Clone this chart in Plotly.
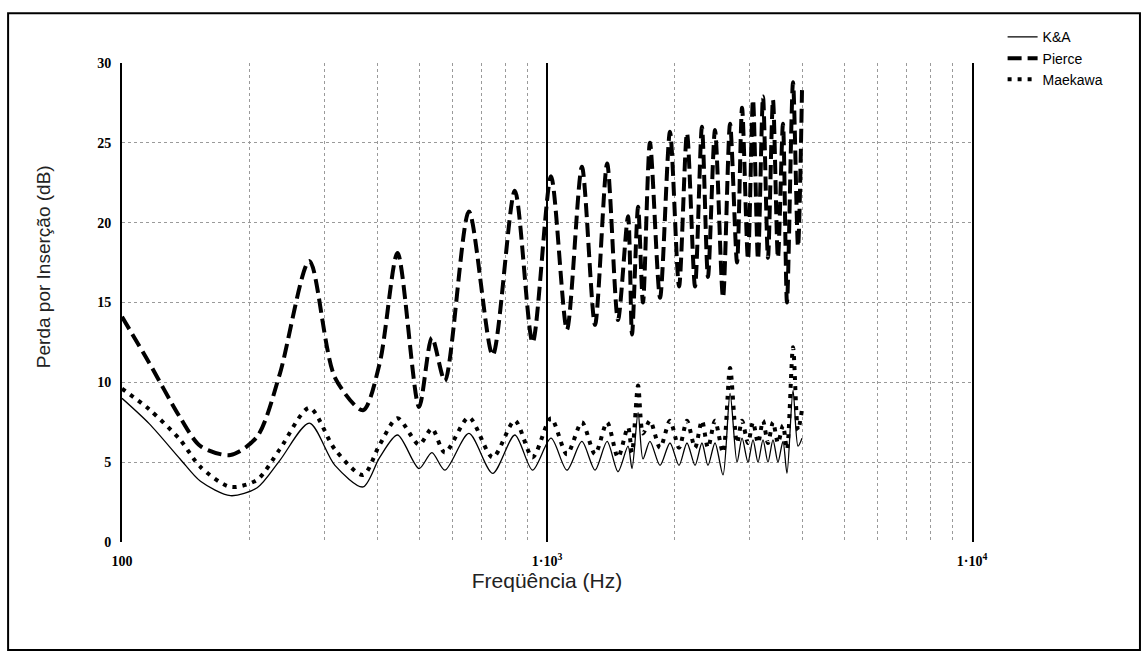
import plotly.graph_objects as go

# Frequencies (Hz) at which the curves were read (peaks / troughs / shape points)
freq = [100, 116, 137, 153, 180, 208, 235, 276, 317, 369, 404, 445, 500, 536, 575,
        655, 745, 840, 925, 1022, 1114, 1208, 1297, 1385, 1469, 1551, 1585, 1638,
        1682, 1747, 1845, 1947, 2045, 2135, 2230, 2315, 2392, 2485, 2595, 2696,
        2800, 2877, 2971, 3053, 3137, 3223, 3311, 3402, 3495, 3591, 3670, 3792,
        3896, 3981]

pierce = [14.1, 11.2, 7.8, 6.0, 5.45, 6.6, 10.5, 17.6, 10.3, 8.25, 11.2, 18.1, 8.45,
          12.8, 10.1, 20.7, 11.7, 22.0, 12.5, 22.9, 13.3, 23.5, 13.6, 23.7, 13.9,
          20.4, 13.0, 21.0, 15.0, 25.0, 15.3, 25.7, 16.0, 25.6, 16.0, 26.0, 16.6,
          25.8, 15.3, 26.2, 17.5, 27.2, 17.7, 27.7, 17.7, 27.9, 17.8, 27.7, 17.8,
          26.2, 15.0, 28.8, 18.5, 28.3]

ka = [9.0, 7.4, 5.2, 3.8, 2.9, 3.4, 5.1, 7.45, 4.8, 3.45, 5.3, 6.7, 4.6, 5.6, 4.5,
      6.8, 4.3, 6.7, 4.5, 6.5, 4.5, 6.3, 4.5, 6.3, 4.4, 6.0, 4.6, 8.1, 5.2, 6.3,
      4.8, 6.2, 4.8, 6.2, 4.8, 6.2, 4.8, 6.2, 4.2, 9.3, 5.0, 6.5, 5.0, 6.4, 5.0,
      6.4, 5.0, 6.4, 5.0, 6.3, 4.3, 9.5, 6.0, 6.5]

maekawa = [9.6, 8.3, 6.4, 4.7, 3.45, 3.9, 5.8, 8.4, 5.8, 4.2, 6.1, 7.75, 6.1, 7.1,
           5.6, 7.8, 5.3, 7.6, 5.3, 7.75, 5.5, 7.5, 5.5, 7.5, 5.3, 7.2, 5.6, 9.8,
           6.8, 7.6, 5.9, 7.6, 5.9, 7.6, 5.9, 7.6, 5.9, 7.6, 5.6, 10.9, 6.2, 7.6,
           6.2, 7.5, 6.2, 7.6, 6.2, 7.5, 6.2, 7.3, 5.8, 12.2, 7.0, 8.3]

series_names = ["K&A", "Pierce", "Maekawa"]

x_tickvals = [100, 200, 300, 400, 500, 600, 700, 800, 900,
              1000, 2000, 3000, 4000, 5000, 6000, 7000, 8000, 9000, 10000]
x_ticktext = ["100", "", "", "", "", "", "", "", "",
              "1·10<sup>3</sup>", "", "", "", "", "", "", "", "", "1·10<sup>4</sup>"]
y_tickvals = [0, 5, 10, 15, 20, 25, 30]

fig = go.Figure()
fig.add_trace(go.Scatter(x=freq, y=ka, name=series_names[0], mode="lines",
                         line=dict(color="black", width=1.3, shape="spline", smoothing=0.8)))
fig.add_trace(go.Scatter(x=freq, y=pierce, name=series_names[1], mode="lines",
                         line=dict(color="black", width=4, dash="14px,6px",
                                   shape="spline", smoothing=0.8)))
fig.add_trace(go.Scatter(x=freq, y=maekawa, name=series_names[2], mode="lines",
                         line=dict(color="black", width=4, dash="4px,6px",
                                   shape="spline", smoothing=0.8)))

grid = dict(gridcolor="#9a9a9a", griddash="dot", gridwidth=1)
tickfont = dict(family="Liberation Serif", size=14, color="#000000", weight="bold")

fig.update_xaxes(type="log", range=[2, 4], tickmode="array", tickvals=x_tickvals,
                 ticktext=x_ticktext, showgrid=True, **grid, showline=False,
                 zeroline=False, ticks="outside", ticklen=6,
                 tickcolor="rgba(0,0,0,0)", tickfont=tickfont,
                 title=dict(text="Freqüência (Hz)",
                            font=dict(family="Liberation Sans", size=21, color="#222"),
                            standoff=4))
fig.update_yaxes(range=[0, 30], tickmode="array", tickvals=y_tickvals,
                 showgrid=True, **grid, showline=True, mirror=True, linecolor="black",
                 linewidth=2, zeroline=False, ticks="outside", ticklen=6,
                 tickcolor="rgba(0,0,0,0)", tickfont=tickfont)

fig.add_annotation(text="Perda por Inserção (dB)", xref="paper", yref="paper",
                   x=-0.107, y=0.575, textangle=-90, showarrow=False,
                   font=dict(family="Liberation Sans", size=19, color="#222"))

fig.add_vline(x=1000, line=dict(color="black", width=2))

# outer frame
fig.add_shape(type="rect", xref="paper", yref="paper", x0=-0.134, x1=1.1976,
              y0=-0.2255, y1=1.104, line=dict(color="black", width=2), layer="below")

fig.update_layout(
    width=1145, height=657,
    margin=dict(l=122, r=173, t=63, b=115),
    plot_bgcolor="white", paper_bgcolor="white",
    font=dict(family="Liberation Sans", color="black"),
    legend=dict(x=1.036, y=1.087, xanchor="left", yanchor="top",
                font=dict(family="Liberation Sans", size=14, color="black"),
                bgcolor="rgba(0,0,0,0)", borderwidth=0, tracegroupgap=0),
    showlegend=True,
)

fig.write_html("out.html")
